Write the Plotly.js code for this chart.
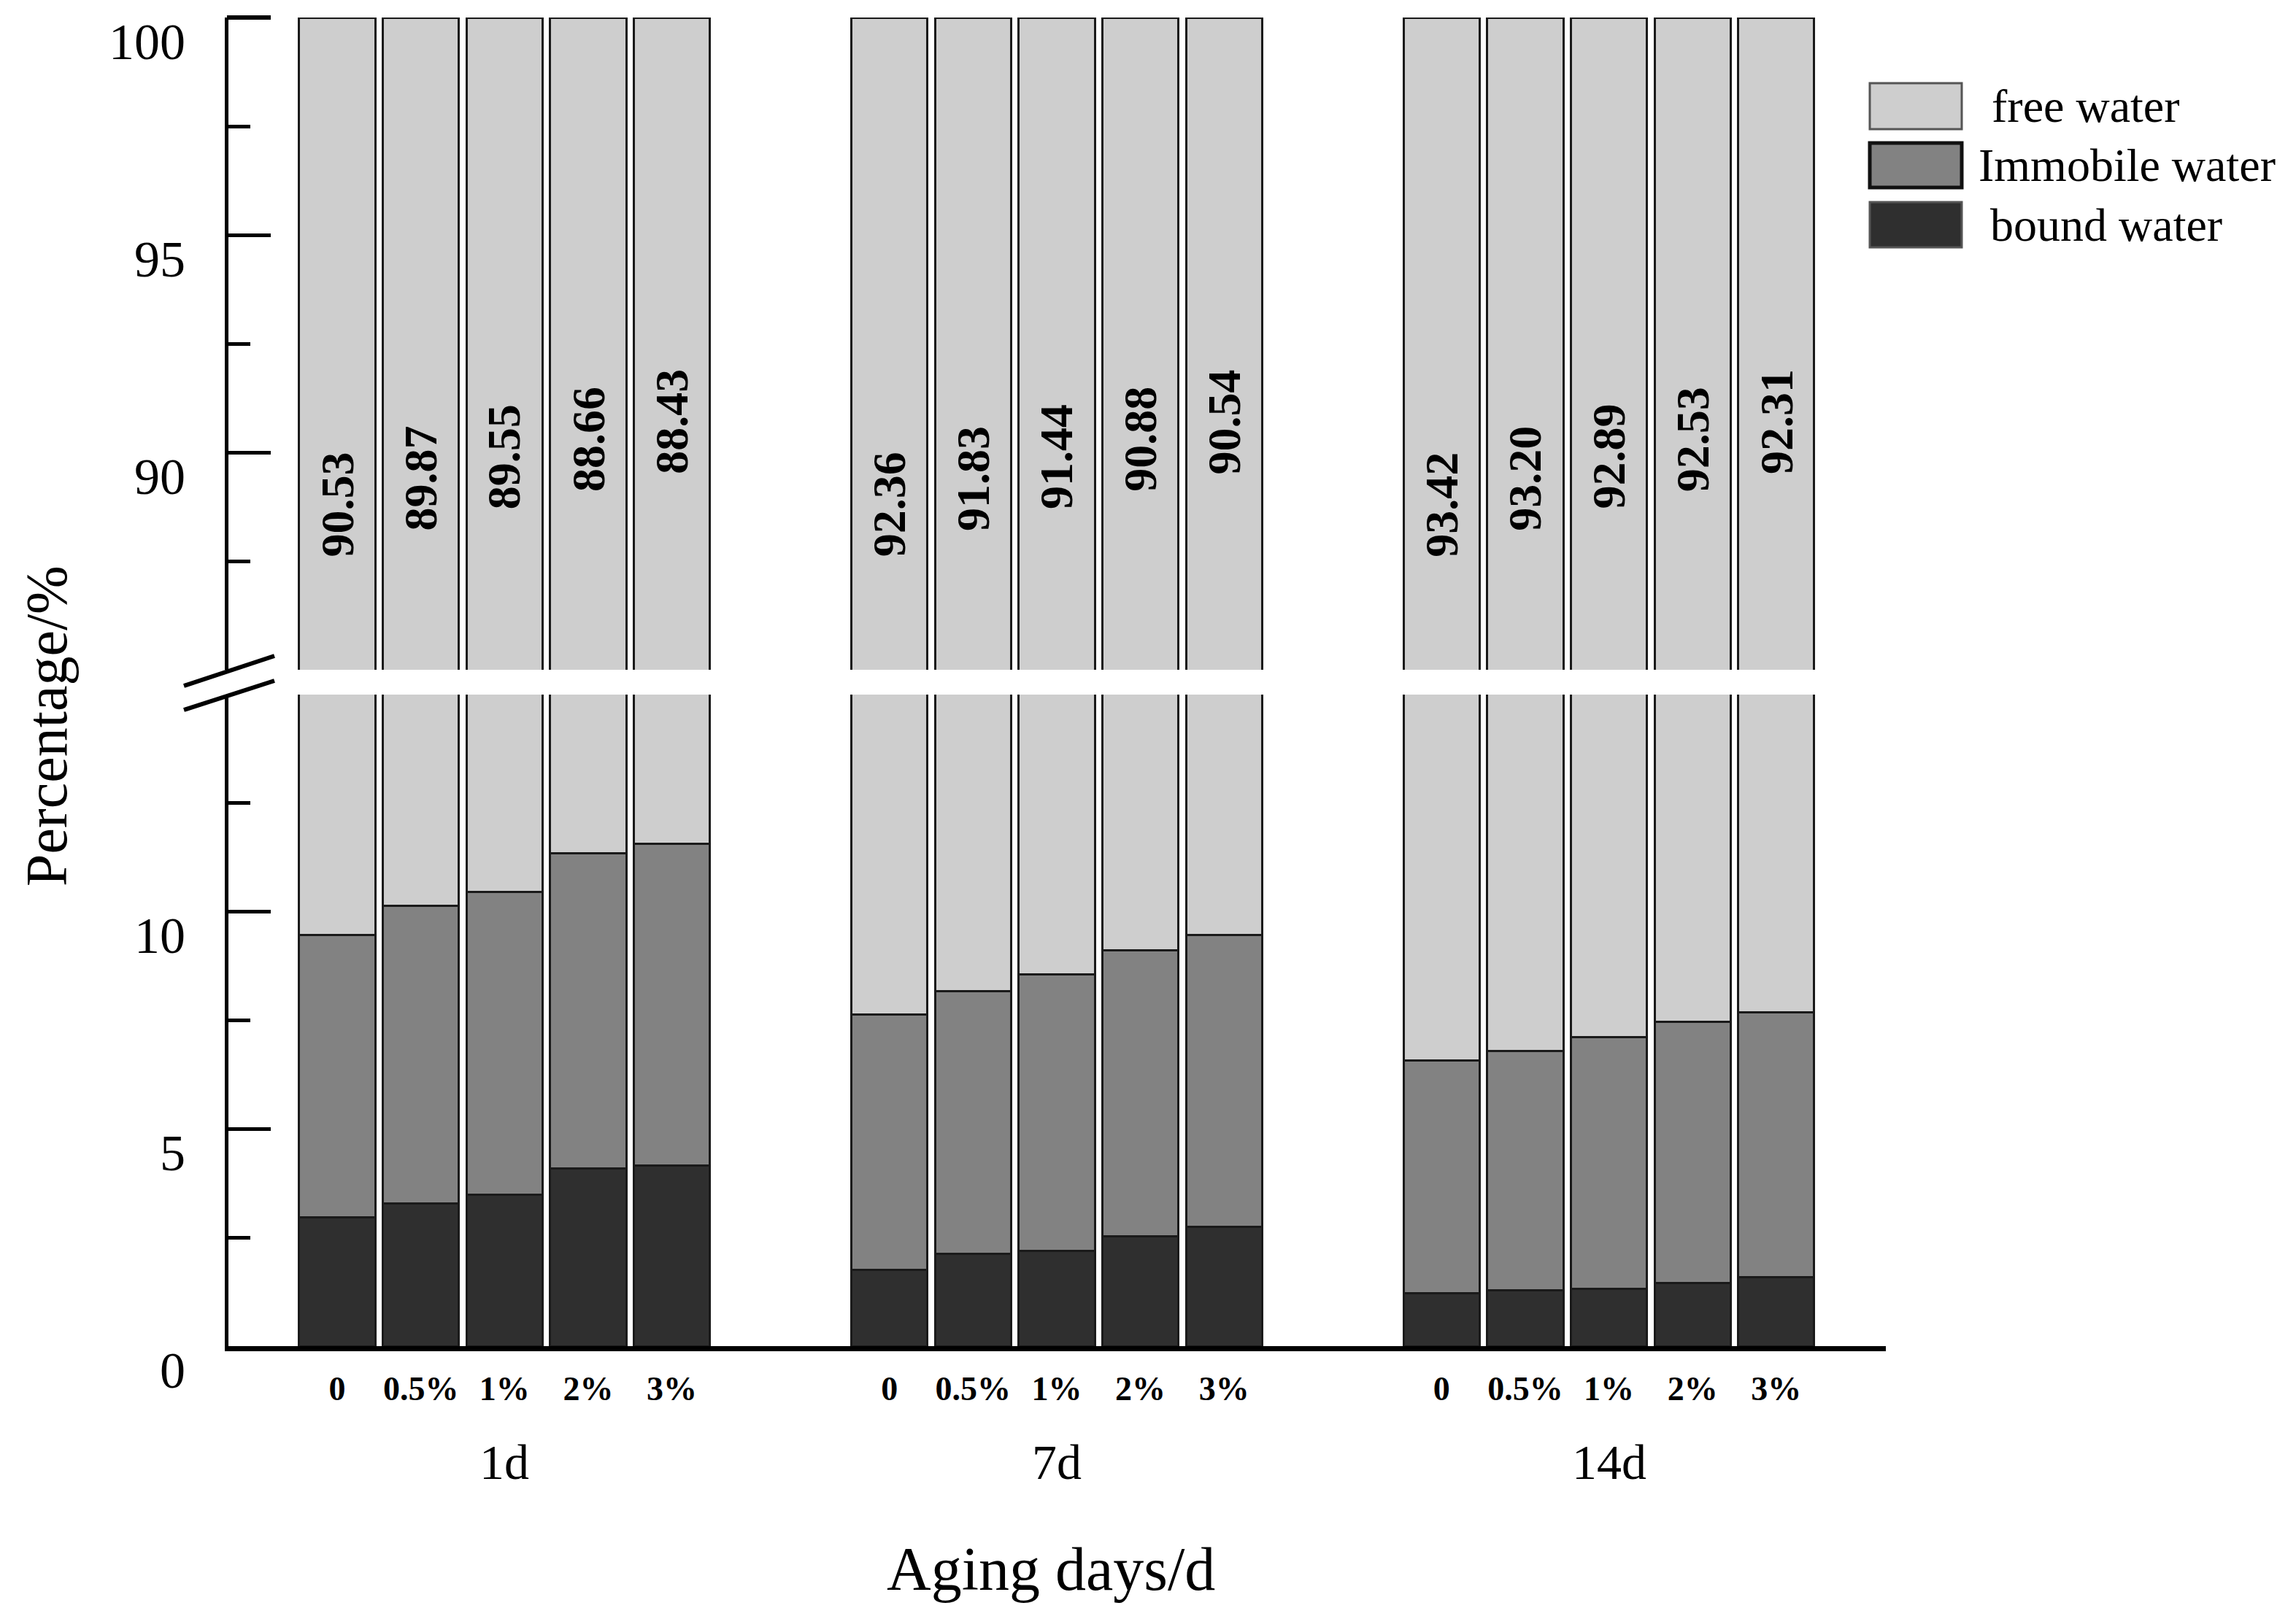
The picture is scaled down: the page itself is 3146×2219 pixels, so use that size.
<!DOCTYPE html>
<html>
<head>
<meta charset="utf-8">
<script src="https://cdn.plot.ly/plotly-3.0.1.min.js"></script>
<style>html,body{margin:0;padding:0;background:#fff;}#chart{width:3146px;height:2219px;}</style>
</head>
<body>
<div id="chart"></div>
<script>
// ---------------- data ----------------
const groups = ['1d', '7d', '14d'];
const concentrations = ['0', '0.5%', '1%', '2%', '3%'];
const freeWater = [90.53, 89.87, 89.55, 88.66, 88.43,
                   92.36, 91.83, 91.44, 90.88, 90.54,
                   93.42, 93.20, 92.89, 92.53, 92.31];
const immobileWater = [6.50, 6.85, 6.97, 7.25, 7.41,
                       5.88, 6.04, 6.36, 6.59, 6.72,
                       5.36, 5.52, 5.79, 6.02, 6.10];
const boundWater = [2.97, 3.28, 3.48, 4.09, 4.16,
                    1.76, 2.13, 2.20, 2.53, 2.74,
                    1.22, 1.28, 1.32, 1.45, 1.59];
const seriesNames = ['free water', 'Immobile water', 'bound water'];

// ---------------- style / layout constants ----------------
const W = 3146, H = 2219;
const L = 313, R = 562, T = 24, B = 374;
const PW = W - L - R, PH = H - T - B;
const groupStep = 6.6;
const FONT = 'Liberation Serif, Times New Roman, serif';
const colors = {free: '#cecece', immobile: '#828282', bound: '#2f2f2f'};
const labelLevels = [88.8, 89.4, 89.9, 90.3, 90.7]; // vertical placement of rotated value labels

const px = v => (v - L) / PW;        // pixel x -> paper x
const py = v => (H - B - v) / PH;    // pixel y -> paper y

// x positions of bars (grouped with gap)
const xs = [];
const tickText = [];
groups.forEach((g, gi) => {
  concentrations.forEach((c, ci) => {
    xs.push(gi * groupStep + ci);
    tickText.push(c);
  });
});

const lineStyle = {color: '#1a1a1a', width: 3};
function barTrace(name, y, color, xa, ya) {
  return {
    type: 'bar', name: name, x: xs, y: y, width: 0.91,
    xaxis: xa, yaxis: ya, showlegend: false, hoverinfo: 'skip',
    marker: {color: color, line: lineStyle}
  };
}

const traces = [];
[['x', 'y'], ['x2', 'y2']].forEach(([xa, ya]) => {
  traces.push(barTrace(seriesNames[2], boundWater, colors.bound, xa, ya));
  traces.push(barTrace(seriesNames[1], immobileWater, colors.immobile, xa, ya));
  traces.push(barTrace(seriesNames[0], freeWater, colors.free, xa, ya));
});

const xRange = [-1.30, 18.51];
const lowDomain = [0, py(952)];
const upDomain = [py(918), 1];

const yCommon = {
  showline: true, linecolor: '#000', linewidth: 5,
  ticks: 'inside', ticklen: 58, tickwidth: 5, tickcolor: '#000',
  showgrid: false, zeroline: false,
  tickfont: {family: FONT, size: 70, color: '#000'},
  ticklabelshift: 32, ticklabelstandoff: 40,
  fixedrange: true
};

const annotations = [];
// value labels (rotated) in the upper panel
freeWater.forEach((v, i) => {
  annotations.push({
    xref: 'x2', yref: 'y2', x: xs[i], y: labelLevels[i % 5],
    text: v.toFixed(2), textangle: -90, showarrow: false,
    font: {family: FONT, size: 64, color: '#000', weight: 'bold'}
  });
});
// group labels
groups.forEach((g, gi) => {
  annotations.push({
    xref: 'x', yref: 'paper', x: gi * groupStep + 2, y: py(2004),
    text: g, showarrow: false, yanchor: 'middle',
    font: {family: FONT, size: 68, color: '#000'}
  });
});
// axis titles
annotations.push({
  xref: 'paper', yref: 'paper', x: px(1440), y: py(2150),
  text: 'Aging days/d', showarrow: false, yanchor: 'middle',
  font: {family: FONT, size: 84, color: '#000'}
});
annotations.push({
  xref: 'paper', yref: 'paper', x: px(64), y: py(995),
  text: 'Percentage/%', textangle: -90, showarrow: false,
  xanchor: 'center', yanchor: 'middle',
  font: {family: FONT, size: 80, color: '#000'}
});

// custom legend
const legendItems = [
  {name: seriesNames[0], color: colors.free, top: 114, bottom: 177, textX: 2727, border: '#555', bw: 3},
  {name: seriesNames[1], color: colors.immobile, top: 196, bottom: 257, textX: 2709, border: '#111', bw: 5},
  {name: seriesNames[2], color: colors.bound, top: 277, bottom: 339, textX: 2725, border: '#555', bw: 3}
];
const shapes = [];
legendItems.forEach(it => {
  shapes.push({
    type: 'rect', xref: 'paper', yref: 'paper',
    x0: px(2562), x1: px(2688), y0: py(it.bottom), y1: py(it.top),
    fillcolor: it.color, line: {color: it.border, width: it.bw}
  });
  annotations.push({
    xref: 'paper', yref: 'paper', x: px(it.textX), y: py((it.top + it.bottom) / 2),
    xanchor: 'left', yanchor: 'middle', text: it.name, showarrow: false,
    font: {family: FONT, size: 64, color: '#000'}
  });
});
// axis break marks
[[940, 899], [973, 933]].forEach(([ya, yb]) => {
  shapes.push({
    type: 'line', xref: 'paper', yref: 'paper',
    x0: px(252), y0: py(ya), x1: px(376), y1: py(yb),
    line: {color: '#000', width: 6}
  });
});
// make sure the top tick of the upper axis is visible
shapes.push({
  type: 'line', xref: 'paper', yref: 'paper',
  x0: px(311), x1: px(313 + 58), y0: 1, y1: 1,
  line: {color: '#000', width: 6}
});

const layout = {
  width: W, height: H,
  margin: {l: L, r: R, t: T, b: B},
  paper_bgcolor: '#fff', plot_bgcolor: '#fff',
  barmode: 'stack',
  showlegend: false,
  font: {family: FONT, color: '#000'},
  xaxis: {
    domain: [0, 1], range: xRange, anchor: 'y',
    tickmode: 'array', tickvals: xs, ticktext: tickText,
    ticks: '', showline: true, linecolor: '#000', linewidth: 7,
    showgrid: false, zeroline: false,
    tickfont: {family: FONT, size: 46, color: '#000', weight: 'bold'},
    ticklabelstandoff: 12, fixedrange: true
  },
  xaxis2: {
    domain: [0, 1], range: xRange, anchor: 'y2', matches: 'x',
    visible: false, showgrid: false, zeroline: false, fixedrange: true
  },
  yaxis: Object.assign({}, yCommon, {
    domain: lowDomain, range: [0, 15], anchor: 'x',
    tickmode: 'array', tickvals: [0, 5, 10],
    minor: {tickmode: 'array', tickvals: [2.5, 7.5, 12.5], ticks: 'inside', ticklen: 30, tickwidth: 5, tickcolor: '#000', showgrid: false}
  }),
  yaxis2: Object.assign({}, yCommon, {
    domain: upDomain, range: [85, 100], anchor: 'x2',
    tickmode: 'array', tickvals: [90, 95, 100],
    minor: {tickmode: 'array', tickvals: [87.5, 92.5, 97.5], ticks: 'inside', ticklen: 30, tickwidth: 5, tickcolor: '#000', showgrid: false}
  }),
  annotations: annotations,
  shapes: shapes
};

Plotly.newPlot('chart', traces, layout, {displayModeBar: false, staticPlot: true});
</script>
</body>
</html>
